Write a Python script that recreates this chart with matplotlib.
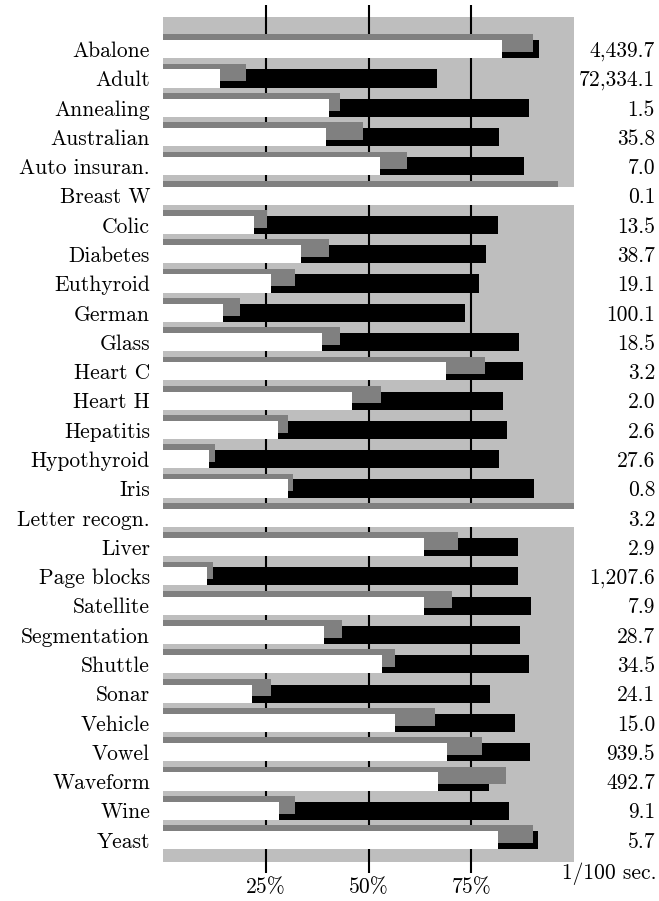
import matplotlib
matplotlib.use("Agg")
import matplotlib.pyplot as plt
from matplotlib.patches import Rectangle
import numpy as np

plt.rcParams['font.family'] = ['cmr10', 'DejaVu Serif']
plt.rcParams['axes.formatter.use_mathtext'] = True

datasets = ["Abalone", "Adult", "Annealing", "Australian", "Auto insuran.", "Breast W",
            "Colic", "Diabetes", "Euthyroid", "German", "Glass", "Heart C", "Heart H",
            "Hepatitis", "Hypothyroid", "Iris", "Letter recogn.", "Liver", "Page blocks",
            "Satellite", "Segmentation", "Shuttle", "Sonar", "Vehicle", "Vowel",
            "Waveform", "Wine", "Yeast"]

white_pct = [82.4, 13.9, 40.4, 39.7, 52.9, 100.0, 22.2, 33.6, 26.2, 14.6, 38.6, 68.8, 46.0,
             28.1, 11.3, 30.5, 100.0, 63.6, 10.6, 63.6, 39.2, 53.3, 21.6, 56.5, 69.1,
             67.0, 28.3, 81.6]
gray_pct = [90.1, 20.2, 43.0, 48.7, 59.3, 96.1, 25.3, 40.3, 32.2, 18.7, 43.0, 78.4, 53.0,
            30.3, 12.6, 31.7, 100.0, 71.7, 12.1, 70.4, 43.5, 56.4, 26.2, 66.3, 77.6,
            83.5, 32.2, 90.0]
black_pct = [91.6, 66.6, 89.1, 81.7, 87.9, 100.0, 81.5, 78.6, 76.8, 73.5, 86.5, 87.5, 82.7,
             83.7, 81.7, 90.3, 100.0, 86.3, 86.3, 89.6, 86.9, 89.0, 79.6, 85.6, 89.3,
             79.4, 84.3, 91.2]
times = ["4,439.7", "72,334.1", "1.5", "35.8", "7.0", "0.1", "13.5", "38.7", "19.1", "100.1",
         "18.5", "3.2", "2.0", "2.6", "27.6", "0.8", "3.2", "2.9", "1,207.6", "7.9", "28.7",
         "34.5", "24.1", "15.0", "939.5", "492.7", "9.1", "5.7"]
ticks = [25, 50, 75]
tick_labels = ["25%", "50%", "75%"]
unit_label = "1/100 sec."

W, H = 659, 901
fig = plt.figure(figsize=(W / 100, H / 100), dpi=100)
x0, x100 = 163, 574
c0, period = 49.2, 29.29
ax = fig.add_axes([x0 / W, 0, (x100 - x0) / W, 1])
ax.set_xlim(0, 100)
ax.set_ylim((H - c0) / period, -c0 / period)
ax.axis('off')

def py(px):
    return (px - c0) / period

def px_x(px):
    return (px - x0) / (x100 - x0) * 100

LIGHT = '#bebebe'
DARK = '#808080'

top, bot = py(16.7), py(861.5)
ax.add_patch(Rectangle((0, top), 100, bot - top, facecolor=LIGHT, edgecolor='none', zorder=0.5))
ax.vlines(ticks, py(5), py(873), color='black', lw=1.5, zorder=1)

y = np.arange(len(datasets))
ax.barh(y, black_pct, height=0.62, color='black', zorder=2)
ax.barh(y - 0.205, gray_pct, height=0.6, color=DARK, zorder=3)
ax.barh(y, white_pct, height=0.62, color='white', zorder=4)

fs = 15.5
for i, (name, t) in enumerate(zip(datasets, times)):
    ax.text(px_x(150), i, name, ha='right', va='center_baseline', fontsize=fs, clip_on=False)
    ax.text(px_x(655), i, t, ha='right', va='center_baseline', fontsize=fs, clip_on=False)

for tk, lab in zip(ticks, tick_labels):
    ax.text(tk, py(887), lab, ha='center', va='center', fontsize=fs, clip_on=False)
ax.text(px_x(656), py(874), unit_label, ha='right', va='center', fontsize=fs, clip_on=False)

fig.savefig('out.png', dpi=100, facecolor='white')
